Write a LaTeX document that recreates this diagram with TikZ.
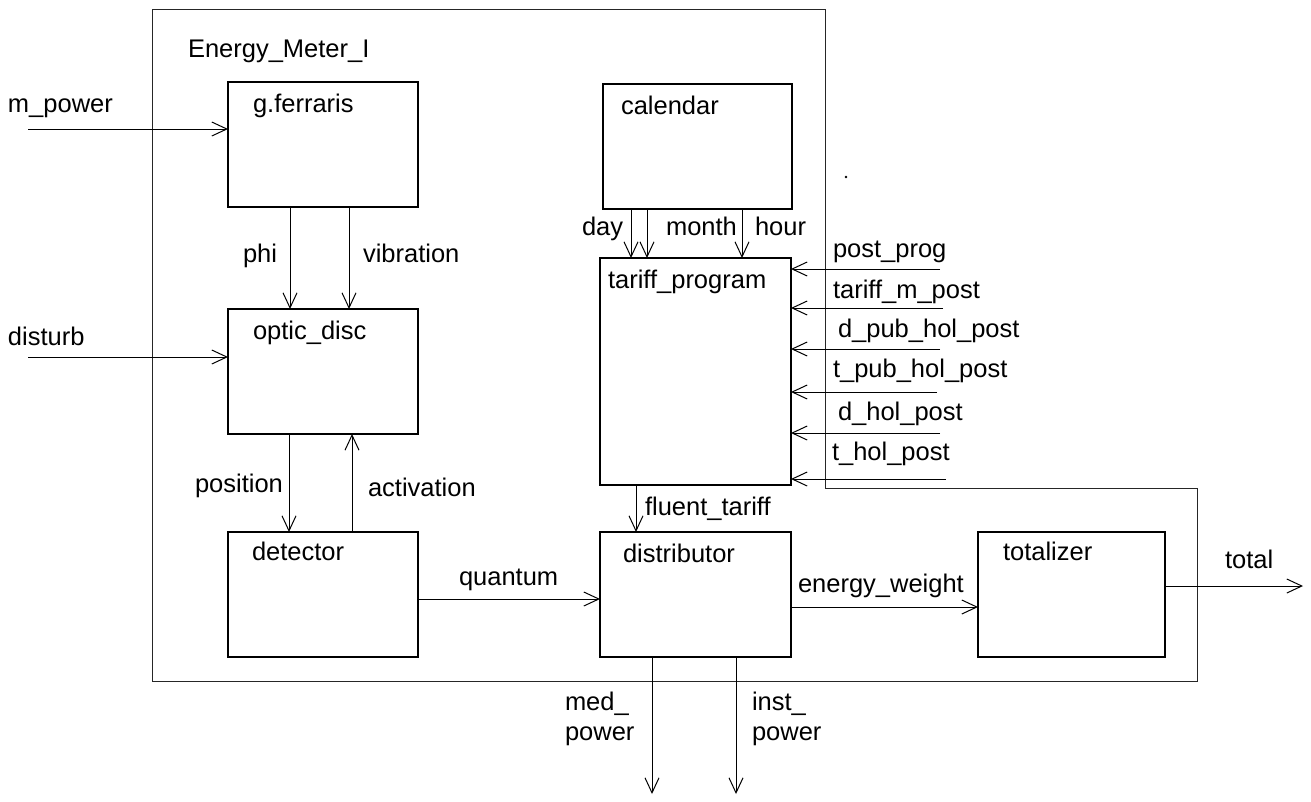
\documentclass[tikz,border=0pt]{standalone}
\usepackage{fontspec}
\setmainfont{Liberation Sans}
\usetikzlibrary{arrows.meta}
\begin{document}
\begin{tikzpicture}[x=1pt,y=-1pt,
  every node/.style={font=\fontsize{25.5}{30}\selectfont, inner sep=0pt, outer sep=0pt},
  blk/.style={draw, line width=1.2pt, anchor=north west},
  ttl/.style={anchor=base west},
  lbl/.style={anchor=base west},
  flow/.style={line width=1pt, -{Straight Barb[length=15pt,width=14pt,line width=1pt]}},
  frame/.style={line width=1pt, draw=black!85}
]
\useasboundingbox (0,0) rectangle (1311,801);

% enclosing component
\draw[frame] (152,9) -- (825,9) -- (825,488) -- (1197,488) -- (1197,681) -- (152,681) -- cycle;
\node[lbl] (title) at (188,57) {Energy\_Meter\_I};
\fill (846,177) circle (1.4pt);

% blocks
\node[blk, minimum width=190pt, minimum height=125pt] (gf)   at (228,82)  {};
\node[blk, minimum width=189pt, minimum height=125pt] (cal)  at (603,84)  {};
\node[blk, minimum width=190pt, minimum height=125pt] (od)   at (228,309) {};
\node[blk, minimum width=190pt, minimum height=125pt] (det)  at (228,532) {};
\node[blk, minimum width=191pt, minimum height=227pt] (tp)   at (600,258) {};
\node[blk, minimum width=191pt, minimum height=125pt] (dist) at (600,532) {};
\node[blk, minimum width=187pt, minimum height=125pt] (tot)  at (978,532) {};

% block titles
\node[ttl] (gft)   at ([shift={(25pt,-30pt)}]gf.north west)   {g.ferraris};
\node[ttl] (calt)  at ([shift={(18pt,-30pt)}]cal.north west)  {calendar};
\node[ttl] (odt)   at ([shift={(25pt,-30pt)}]od.north west)   {optic\_disc};
\node[ttl] (dett)  at ([shift={(24pt,-28pt)}]det.north west)  {detector};
\node[ttl] (tpt)   at ([shift={(8pt,-30pt)}]tp.north west)    {tariff\_program};
\node[ttl] (distt) at ([shift={(23pt,-30pt)}]dist.north west) {distributor};
\node[ttl] (tott)  at ([shift={(25pt,-28pt)}]tot.north west)  {totalizer};

% external inputs on the left
\coordinate (mpin) at (28,129);
\coordinate (dsin) at (28,357);
\draw[flow] (mpin) -- (mpin -| gf.west);
\draw[flow] (dsin) -- (dsin -| od.west);
\node[lbl] (mpl) at (8,112) {m\_power};
\node[lbl] (dsl) at (8,345) {disturb};

% g.ferraris -> optic_disc
\draw[flow] ([xshift=62pt]gf.south west) -- ([xshift=62pt]gf.south west |- od.north);
\draw[flow] ([xshift=121pt]gf.south west) -- ([xshift=121pt]gf.south west |- od.north);
\node[lbl] (phil) at (243,262) {phi};
\node[lbl] (vibl) at (363,262) {vibration};

% optic_disc <-> detector
\draw[flow] ([xshift=61pt]od.south west) -- ([xshift=61pt]od.south west |- det.north);
\draw[flow] ([xshift=124pt]det.north west) -- ([xshift=124pt]det.north west |- od.south);
\node[lbl] (posl) at (195,492) {position};
\node[lbl] (actl) at (368,496) {activation};

% detector -> distributor
\draw[flow] ([yshift=-4.5pt]det.east) -- ([yshift=-4.5pt]det.east -| dist.west);
\node[lbl] (qul) at (459,585) {quantum};

% calendar -> tariff_program
\draw[flow] ([xshift=28pt]cal.south west) -- ([xshift=28pt]cal.south west |- tp.north);
\draw[flow] ([xshift=44pt]cal.south west) -- ([xshift=44pt]cal.south west |- tp.north);
\draw[flow] ([xshift=139pt]cal.south west) -- ([xshift=139pt]cal.south west |- tp.north);
\node[lbl] (dayl) at (582,235) {day};
\node[lbl] (monl) at (666,235) {month};
\node[lbl] (houl) at (755,235) {hour};

% programming posts entering tariff_program
\coordinate (pp)  at (940,269);
\coordinate (tmp) at (943,308);
\coordinate (dph) at (940,349);
\coordinate (tph) at (937,392);
\coordinate (dh)  at (940,433);
\coordinate (th)  at (946,479);
\foreach \c in {pp,tmp,dph,tph,dh,th}
  \draw[flow] (\c) -- (\c -| tp.east);
\node[lbl] (ppl)  at (833,257) {post\_prog};
\node[lbl] (tmpl) at (833,298) {tariff\_m\_post};
\node[lbl] (dphl) at (838,337) {d\_pub\_hol\_post};
\node[lbl] (tphl) at (833,377) {t\_pub\_hol\_post};
\node[lbl] (dhl)  at (838,420) {d\_hol\_post};
\node[lbl] (thl)  at (832,460) {t\_hol\_post};

% tariff_program -> distributor
\draw[flow] ([xshift=36pt]tp.south west) -- ([xshift=36pt]tp.south west |- dist.north);
\node[lbl] (ftl) at (645,515) {fluent\_tariff};

% distributor -> totalizer -> output
\draw[flow] ([yshift=-12.5pt]dist.east) -- ([yshift=-12.5pt]dist.east -| tot.west);
\node[lbl] (ewl) at (798,592) {energy\_weight};
\coordinate (totout) at (1303,586);
\draw[flow] (totout -| tot.east) -- (totout);
\node[lbl] (totl) at (1225,568) {total};

% distributor outputs
\coordinate (medout)  at (652,794);
\coordinate (instout) at (736,794);
\draw[flow] (medout |- dist.south) -- (medout);
\draw[flow] (instout |- dist.south) -- (instout);
\node[lbl] (medl1) at (565,710) {med\_};
\node[lbl] (medl2) at (565,740) {power};
\node[lbl] (insl1) at (752,710) {inst\_};
\node[lbl] (insl2) at (752,740) {power};
\end{tikzpicture}
\end{document}
